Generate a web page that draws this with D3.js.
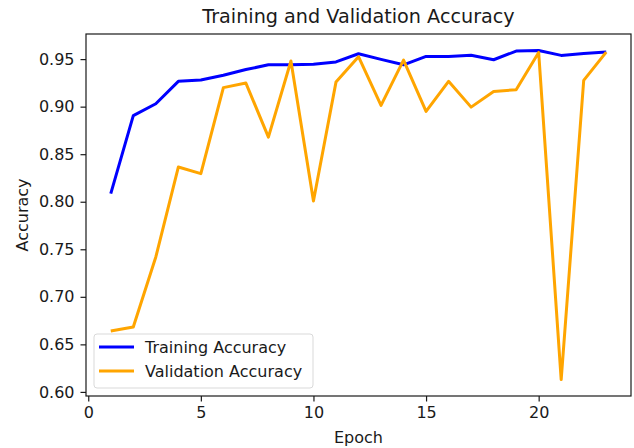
<!DOCTYPE html>
<html>
<head>
<meta charset="utf-8">
<script src="https://cdn.jsdelivr.net/npm/d3@7"></script>
<style>
  body { margin: 0; background: #fff; }
  text { font-family: "DejaVu Sans", sans-serif; fill: #1a1a1a; }
</style>
</head>
<body>
<svg id="chart"></svg>
<script>
// values
let epochs = d3.range(1, 24);
let trainAcc = [0.8085, 0.8905, 0.903, 0.9266, 0.928, 0.933, 0.939, 0.944, 0.944, 0.9445,
    0.947, 0.9556, 0.9497, 0.944, 0.9528, 0.9528, 0.954, 0.9493, 0.9584, 0.9591,
    0.9539, 0.956, 0.9574];
let valAcc = [0.6641, 0.6683, 0.7419, 0.8365, 0.8295, 0.92, 0.9248, 0.868, 0.948, 0.8007,
    0.9258, 0.9525, 0.9013, 0.949, 0.895, 0.9266, 0.8995, 0.916, 0.9178, 0.957,
    0.613, 0.9276, 0.9574];
let xTicks = [0, 5, 10, 15, 20];
let yTicks = [0.60, 0.65, 0.70, 0.75, 0.80, 0.85, 0.90, 0.95];

function drawChart() {
    let w = 634, h = 448;
    let margin = {top: 34, right: 3, bottom: 52, left: 86};
    let fs = "16px";

    let svg = d3.select("#chart")
        .attr("width", w)
        .attr("height", h);

    // matplotlib style 5% margins
    let xMin = d3.min(epochs), xMax = d3.max(epochs);
    let xPad = (xMax - xMin) * 0.05;
    let all = trainAcc.concat(valAcc);
    let yMin = d3.min(all), yMax = d3.max(all);
    let yPad = (yMax - yMin) * 0.05;

    let x = d3.scaleLinear()
        .domain([xMin - xPad, xMax + xPad])
        .range([margin.left, w - margin.right]);
    let y = d3.scaleLinear()
        .domain([yMin - yPad, yMax + yPad])
        .range([h - margin.bottom, margin.top]);

    let xAxis = svg.append("g")
        .attr("transform", `translate(0,${h - margin.bottom})`)
        .call(d3.axisBottom(x).tickValues(xTicks).tickFormat(d3.format("d"))
            .tickSize(5.5).tickPadding(5));
    let yAxis = svg.append("g")
        .attr("transform", `translate(${margin.left},0)`)
        .call(d3.axisLeft(y).tickValues(yTicks).tickFormat(d3.format(".2f"))
            .tickSize(5.5).tickPadding(6));

    [xAxis, yAxis].forEach(a => {
        a.select(".domain").remove();
        a.selectAll(".tick line").attr("stroke", "#1a1a1a").attr("stroke-width", 1.2);
        a.selectAll(".tick text")
            .style("font-family", "'DejaVu Sans', sans-serif")
            .style("font-size", fs)
            .attr("fill", "#1a1a1a");
    });

    let line = d3.line()
        .x((d, i) => x(epochs[i]))
        .y(d => y(d));

    svg.append("path")
        .datum(trainAcc)
        .attr("fill", "none")
        .attr("stroke", "#0000ff")
        .attr("stroke-width", 3)
        .attr("stroke-linejoin", "round")
        .attr("d", line);

    svg.append("path")
        .datum(valAcc)
        .attr("fill", "none")
        .attr("stroke", "#ffa500")
        .attr("stroke-width", 3)
        .attr("stroke-linejoin", "round")
        .attr("d", line);

    // axes frame
    svg.append("rect")
        .attr("x", margin.left)
        .attr("y", margin.top)
        .attr("width", w - margin.left - margin.right)
        .attr("height", h - margin.top - margin.bottom)
        .attr("fill", "none")
        .attr("stroke", "#1a1a1a")
        .attr("stroke-width", 1.2);

    // title and labels
    let cx = (margin.left + w - margin.right) / 2;
    svg.append("text")
        .attr("x", cx)
        .attr("y", 23)
        .attr("text-anchor", "middle")
        .style("font-size", "19.2px")
        .text("Training and Validation Accuracy");

    svg.append("text")
        .attr("x", cx)
        .attr("y", 443)
        .attr("text-anchor", "middle")
        .style("font-size", fs)
        .text("Epoch");

    svg.append("text")
        .attr("transform", `translate(28,${(margin.top + h - margin.bottom) / 2}) rotate(-90)`)
        .attr("text-anchor", "middle")
        .style("font-size", fs)
        .text("Accuracy");

    // legend
    let legend = svg.append("g");
    legend.append("rect")
        .attr("x", 94)
        .attr("y", 334)
        .attr("width", 219)
        .attr("height", 54)
        .attr("rx", 3)
        .attr("fill", "#fff")
        .attr("fill-opacity", 0.8)
        .attr("stroke", "#d9d9d9")
        .attr("stroke-width", 1);

    let items = [
        {name: "Training Accuracy", color: "#0000ff"},
        {name: "Validation Accuracy", color: "#ffa500"}
    ];
    items.forEach((it, i) => {
        let ly = 347 + i * 24;
        legend.append("line")
            .attr("x1", 99).attr("x2", 134)
            .attr("y1", ly).attr("y2", ly)
            .attr("stroke", it.color)
            .attr("stroke-width", 3);
        legend.append("text")
            .attr("x", 145)
            .attr("y", ly + 6)
            .style("font-size", fs)
            .text(it.name);
    });
}

window.onload = function() {
    drawChart();
}
</script>
</body>
</html>
